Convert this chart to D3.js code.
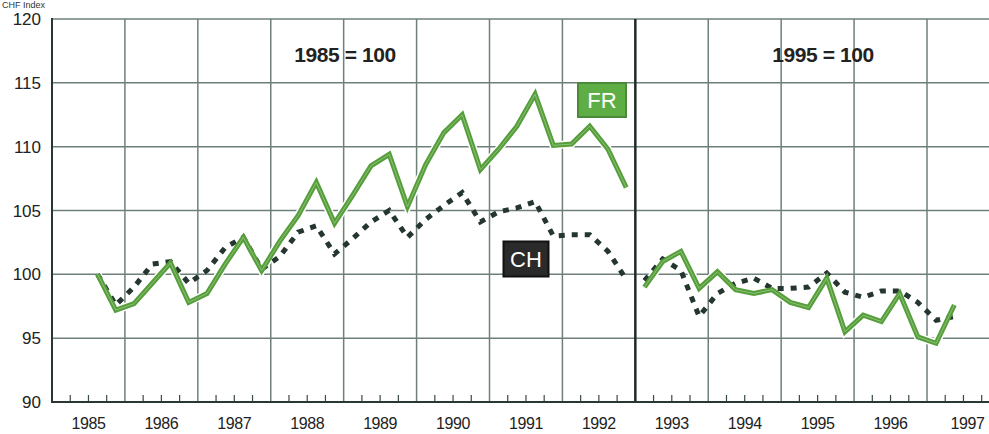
<!DOCTYPE html>
<html>
<head>
<meta charset="utf-8">
<script src="https://cdn.jsdelivr.net/npm/d3@7"></script>
<style>
  body { margin: 0; background: #fff; }
  svg { display: block; font-family: "Liberation Sans", Arial, sans-serif; }
</style>
</head>
<body>
<script>
// quarterly series, first block base 1985 = 100 (1985Q3 .. 1992Q4)
var start1 = [1985, 3];
var fr1 = [100.0, 97.2, 97.7, 99.3, 100.9, 97.8, 98.5, 100.8, 102.9, 100.3,
           102.6, 104.6, 107.2, 104.0, 106.2, 108.5, 109.4, 105.3, 108.6, 111.1,
           112.5, 108.2, 109.8, 111.6, 114.1, 110.1, 110.2, 111.6, 109.8, 106.8];
var ch1 = [100.0, 97.6, 99.0, 100.8, 101.0, 99.3, 100.3, 102.1, 102.9, 100.4,
           101.4, 103.3, 103.8, 101.6, 102.8, 104.1, 105.0, 102.9, 104.3, 105.4,
           106.4, 104.1, 104.9, 105.2, 105.7, 103.0, 103.1, 103.1, 101.8, 99.6];
// second block base 1995 = 100 (1993Q1 .. 1997Q2)
var start2 = [1993, 1];
var fr2 = [99.0, 101.0, 101.8, 98.9, 100.2, 98.8, 98.5, 98.8, 97.8, 97.4,
           99.7, 95.5, 96.8, 96.3, 98.5, 95.1, 94.6, 97.6];
var ch2 = [99.5, 101.2, 100.3, 96.7, 98.5, 99.3, 99.7, 98.9, 98.9, 99.0,
           100.1, 98.6, 98.2, 98.7, 98.7, 97.8, 96.4, 96.7];

var years = d3.range(1985, 1998);
var yTicks = [90, 95, 100, 105, 110, 115, 120];

var W = 989, H = 434;
var svg = d3.select("body").append("svg").attr("width", W).attr("height", H);

var x = d3.scaleLinear().domain([1985, 1997]).range([52, 927]);
var y = d3.scaleLinear().domain([90, 120]).range([402, 19]);

var gridCol = "#6f8079";

function toPoints(start, vals) {
  return vals.map(function(v, i) {
    var q = start[1] - 1 + i;
    return { t: start[0] + (q + 0.5) / 4, v: v };
  });
}

// horizontal grid
svg.append("g").selectAll("line").data(yTicks.filter(function(d){ return d > 90; }))
  .join("line")
  .attr("x1", 52).attr("x2", W)
  .attr("y1", function(d){ return y(d); }).attr("y2", function(d){ return y(d); })
  .attr("stroke", gridCol).attr("stroke-width", 1.5);

// vertical grid at year boundaries
svg.append("g").selectAll("line").data(years.slice(1))
  .join("line")
  .attr("x1", function(d){ return x(d); }).attr("x2", function(d){ return x(d); })
  .attr("y1", 19).attr("y2", 402)
  .attr("stroke", function(d){ return d === 1993 ? "#1f2a26" : gridCol; })
  .attr("stroke-width", function(d){ return d === 1993 ? 2.5 : 1.5; });

// quarter ticks on x-axis
var quarters = [];
years.forEach(function(yr){ [0.25, 0.5, 0.75].forEach(function(f){ quarters.push(yr + f); }); });
svg.append("g").selectAll("line").data(quarters.filter(function(d){ return x(d) < W; }))
  .join("line")
  .attr("x1", function(d){ return x(d); }).attr("x2", function(d){ return x(d); })
  .attr("y1", 402).attr("y2", 395)
  .attr("stroke", "#3a4a44").attr("stroke-width", 1.2);

// axes lines
svg.append("line").attr("x1", 52).attr("x2", W).attr("y1", 402).attr("y2", 402)
  .attr("stroke", "#2a3833").attr("stroke-width", 2);
svg.append("line").attr("x1", 52).attr("x2", 52).attr("y1", 18).attr("y2", 403)
  .attr("stroke", "#2a3833").attr("stroke-width", 2);

// tick labels
svg.append("g").selectAll("text").data(yTicks)
  .join("text")
  .attr("x", 41).attr("y", function(d){ return y(d) + 6; })
  .attr("text-anchor", "end")
  .attr("font-size", 17).attr("fill", "#222")
  .text(function(d){ return d; });

svg.append("g").selectAll("text").data(years)
  .join("text")
  .attr("x", function(d){ return x(d + 0.5) + (d === 1997 ? 4 : 0); })
  .attr("y", 429)
  .attr("text-anchor", "middle")
  .attr("font-size", 16).attr("letter-spacing", -0.4).attr("fill", "#222")
  .text(function(d){ return d; });

svg.append("text").attr("x", 2).attr("y", 8)
  .attr("font-size", 9).attr("fill", "#333").text("CHF Index");

// series
var line = d3.line().x(function(d){ return x(d.t); }).y(function(d){ return y(d.v); });
var frCol = "#569e3c", chCol = "#24362f";

[[start1, fr1, ch1], [start2, fr2, ch2]].forEach(function(s) {
  var fr = toPoints(s[0], s[1]), ch = toPoints(s[0], s[2]);
  svg.append("path").datum(fr).attr("d", line)
    .attr("fill", "none").attr("stroke", "#fff").attr("stroke-width", 8)
    .attr("stroke-linejoin", "miter");
  svg.append("path").datum(ch).attr("d", line)
    .attr("fill", "none").attr("stroke", chCol).attr("stroke-width", 5)
    .attr("stroke-dasharray", "6,7");
  svg.append("path").datum(fr).attr("d", line)
    .attr("fill", "none").attr("stroke", frCol).attr("stroke-width", 5)
    .attr("stroke-linejoin", "miter");
  svg.append("path").datum(fr).attr("d", line)
    .attr("fill", "none").attr("stroke", "#8cc274").attr("stroke-width", 1)
    .attr("stroke-linejoin", "miter");
});

// base labels
svg.append("text").attr("x", 345).attr("y", 62).attr("text-anchor", "middle")
  .attr("font-size", 21).attr("font-weight", "bold").attr("letter-spacing", -0.4)
  .attr("fill", "#222").text("1985 = 100");
svg.append("text").attr("x", 823).attr("y", 62).attr("text-anchor", "middle")
  .attr("font-size", 21).attr("font-weight", "bold").attr("letter-spacing", -0.4)
  .attr("fill", "#222").text("1995 = 100");

// series tags
function tag(cx, cy, w, h, fill, stroke, txt) {
  svg.append("rect").attr("x", cx - w / 2).attr("y", cy - h / 2).attr("width", w).attr("height", h)
    .attr("fill", fill).attr("stroke", stroke).attr("stroke-width", 2);
  svg.append("text").attr("x", cx).attr("y", cy + 8).attr("text-anchor", "middle")
    .attr("font-size", 22).attr("fill", "#fff").text(txt);
}
tag(602, 100, 48, 34, "#5fae45", "#4b8a38", "FR");
tag(526, 259, 45, 35, "#2a2a2a", "#111", "CH");
</script>
</body>
</html>
